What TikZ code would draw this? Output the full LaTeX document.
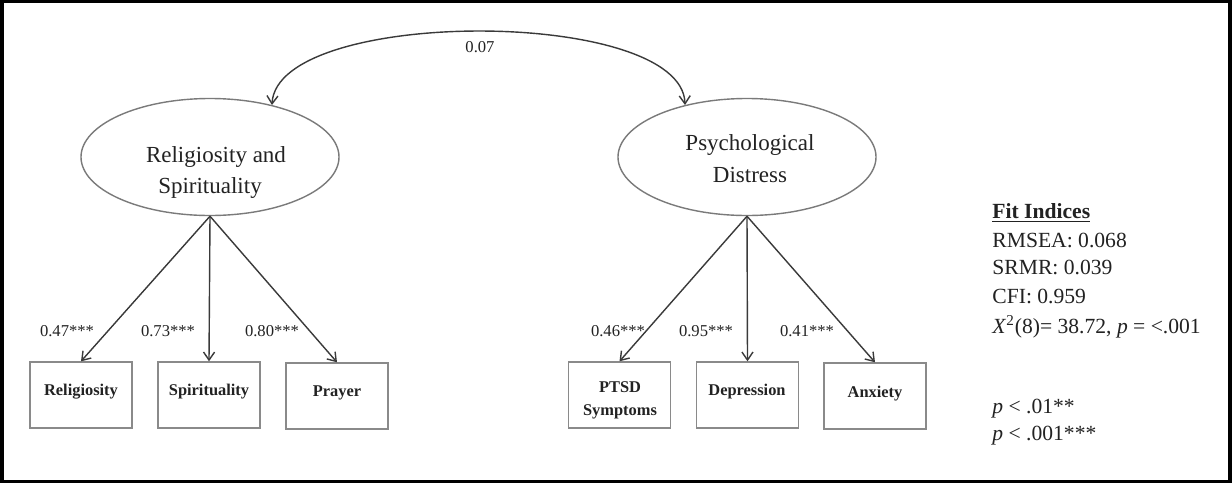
\documentclass[tikz,border=0pt]{standalone}
\usepackage{fontspec}
\setmainfont{Liberation Serif}
\usetikzlibrary{shapes.geometric,arrows.meta}
\definecolor{txt}{HTML}{222222}
\definecolor{elline}{HTML}{7A7A7A}
\definecolor{boxline}{HTML}{8A8A8A}
\definecolor{arr}{HTML}{3A3A3A}
\tikzset{
  latent/.style={ellipse,draw=elline,line width=0.7pt,minimum width=129pt,minimum height=58.5pt,inner sep=0pt},
  obsbox/.style={rectangle,draw=boxline,line width=0.7pt,minimum width=51pt,minimum height=33pt,inner sep=0pt},
  eltext/.style={anchor=base,inner sep=0pt,text=txt,font=\fontsize{11.5}{13}\selectfont},
  boxtext/.style={anchor=base,inner sep=0pt,text=txt,font=\fontsize{8.2}{10}\selectfont\bfseries},
  loadlab/.style={anchor=base,inner sep=0pt,text=txt,font=\fontsize{8.3}{10}\selectfont},
  fittext/.style={anchor=base west,inner sep=0pt,text=txt,font=\fontsize{10.8}{13}\selectfont},
  loadarrow/.style={draw=arr,line width=0.7pt,-{Straight Barb[length=4pt,width=5.5pt]}},
  covarrow/.style={draw=arr,line width=0.7pt,{Straight Barb[length=4pt,width=5.5pt]}-{Straight Barb[length=4pt,width=5.5pt]}}
}
\begin{document}
\begin{tikzpicture}[x=0.5pt,y=-0.5pt]
\useasboundingbox (0,0) rectangle (1232,483);
\fill[black] (0,0) rectangle (1232,483);
\fill[white] (4,3) rectangle (1228,480);

% latent variables
\node[latent] (rs) at (210,157) {};
\node[latent] (pd) at (747,157) {};
\node[eltext] (rs1) at (216,162) {Religiosity and};
\node[eltext] (rs2) at (210,193) {Spirituality};
\node[eltext] (pd1) at (750,150) {Psychological};
\node[eltext] (pd2) at (750,182) {Distress};

% covariance
\draw[covarrow] (rs.40) .. controls (277,7) and (682,7) .. (pd.140);
\node[loadlab,anchor=center] (cov) at (480,47) {0.07};

% observed boxes
\node[obsbox] (rel) at (81,395) {};
\node[obsbox] (spi) at (209,395) {};
\node[obsbox] (pra) at (337,396) {};
\node[obsbox] (pts) at (619.5,395) {};
\node[obsbox] (dep) at (747.5,395) {};
\node[obsbox] (anx) at (875,396) {};

\node[boxtext] (relt) at (81,395) {Religiosity};
\node[boxtext] (spit) at (209,395) {Spirituality};
\node[boxtext] (prat) at (337,396) {Prayer};
\node[boxtext] (ptst1) at (620,392) {PTSD};
\node[boxtext] (ptst2) at (620,415) {Symptoms};
\node[boxtext] (dept) at (747,395) {Depression};
\node[boxtext] (anxt) at (875,397) {Anxiety};

% loadings
\draw[loadarrow] (rs.south) -- (rel.north);
\draw[loadarrow] (rs.south) -- (spi.north);
\draw[loadarrow] (rs.south) -- (pra.north);
\draw[loadarrow] (pd.south) -- (pts.north);
\draw[loadarrow] (pd.south) -- (dep.north);
\draw[loadarrow] (pd.south) -- (anx.north);

\node[loadlab] (l1) at (67,336) {0.47***};
\node[loadlab] (l2) at (168,336) {0.73***};
\node[loadlab] (l3) at (272,336) {0.80***};
\node[loadlab] (l4) at (618,336) {0.46***};
\node[loadlab] (l5) at (706,336) {0.95***};
\node[loadlab] (l6) at (807,336) {0.41***};

% fit indices
\node[fittext] (f0) at (992,218) {\underline{\textbf{Fit Indices}}};
\node[fittext] (f1) at (992,247) {RMSEA: 0.068};
\node[fittext] (f2) at (992,274) {SRMR: 0.039};
\node[fittext] (f3) at (992,303) {CFI: 0.959};
\node[fittext] (f4) at (992,333) {\textit{X}\textsuperscript{2}(8)= 38.72, \textit{p} = <.001};
\node[fittext] (f5) at (992,413) {\textit{p} < .01**};
\node[fittext] (f6) at (992,440) {\textit{p} < .001***};
\end{tikzpicture}
\end{document}
